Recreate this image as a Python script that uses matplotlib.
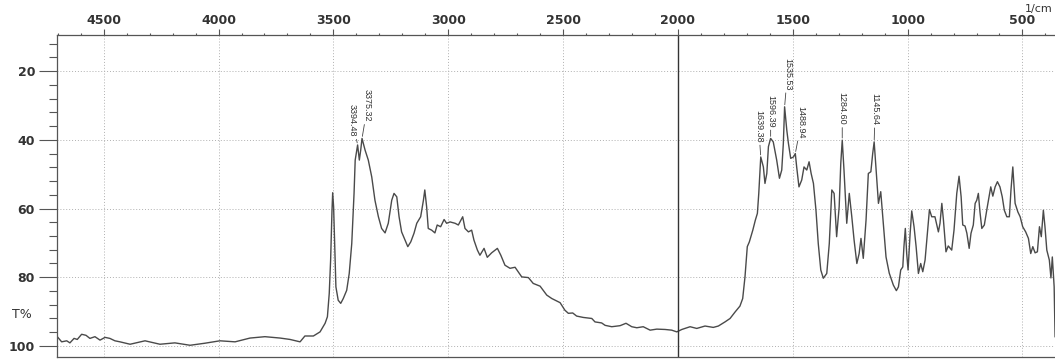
import matplotlib
matplotlib.use("Agg")
import matplotlib.pyplot as plt
from matplotlib.ticker import MultipleLocator

# IR trace: wavenumber (cm-1) and transmittance (%)
wavenumber = [
    4702, 4683, 4661, 4647, 4629, 4615, 4596, 4577, 4560, 4538, 4516, 4494, 4473, 4451, 4429,
    4385, 4320, 4255, 4190, 4124, 4059, 3994, 3928, 3863, 3798, 3732, 3689, 3645, 3624, 3587,
    3558, 3536, 3526, 3518, 3512, 3506, 3503, 3499, 3494, 3489, 3479, 3468, 3457, 3442, 3431,
    3420, 3410, 3405, 3394.48, 3387, 3381, 3375.32, 3362, 3348, 3333, 3319, 3304, 3290, 3275,
    3261, 3246, 3236, 3224, 3214, 3203, 3188, 3176, 3163, 3149, 3137, 3120, 3108, 3102, 3094,
    3087, 3072, 3058, 3048, 3033, 3018, 3007, 2992, 2970, 2956, 2937, 2927, 2912, 2898, 2888,
    2873, 2862, 2844, 2830, 2811, 2786, 2771, 2753, 2731, 2709, 2680, 2651, 2630, 2600, 2571,
    2549, 2513, 2492, 2477, 2458, 2441, 2412, 2375, 2361, 2332, 2317, 2288, 2252, 2226, 2201,
    2179, 2151, 2121, 2092, 2056, 2027, 2005, 1983, 1947, 1918, 1882, 1846, 1824, 1795, 1773,
    1751, 1730, 1718, 1708, 1698, 1689, 1674, 1663, 1654, 1648, 1642, 1639.38, 1628, 1621, 1613,
    1606, 1596.39, 1585, 1570, 1558, 1548, 1541, 1535.53, 1526, 1519, 1509, 1497, 1488.94, 1483,
    1473, 1461, 1451, 1439, 1429, 1420, 1410, 1399, 1389, 1378, 1367, 1352, 1341, 1330, 1320,
    1309, 1298, 1291, 1284.60, 1277, 1265, 1254, 1243, 1233, 1221, 1211, 1203, 1193, 1181, 1171,
    1160, 1152, 1145.64, 1137, 1127, 1117, 1106, 1094, 1080, 1062, 1049, 1040, 1030, 1021, 1016,
    1010, 1004, 998, 989, 982, 972, 963, 953, 943, 934, 924, 914, 905, 895, 881,
    866, 859, 851, 844, 833, 823, 808, 798, 786, 776, 767, 760, 750, 742, 732,
    724, 714, 706, 699, 692, 685, 677, 666, 653, 638, 629, 619, 609, 598, 588,
    579, 568, 557, 550, 542, 532, 520, 510, 499, 486, 474, 464, 455, 445, 435,
    426, 418, 409, 402, 394, 383, 376, 370, 362, 358,
]
transmittance = [
    97.3, 98.8, 98.5, 99.1, 97.8, 98.1, 96.6, 96.9, 97.8, 97.3, 98.3, 97.5, 97.8, 98.5, 98.8,
    99.5, 98.5, 99.5, 99.1, 99.8, 99.2, 98.5, 98.8, 97.7, 97.3, 97.7, 98.1, 98.8, 97.1, 97.1,
    95.9, 93.4, 91.5, 84.7, 75.0, 60.5, 55.4, 59.5, 71.1, 82.8, 86.7, 87.6, 86.2, 83.8, 78.9,
    70.2, 55.6, 45.9, 41.5, 45.9, 43.0, 39.6, 43.0, 45.9, 50.8, 57.6, 62.4, 65.8, 67.1,
    64.3, 57.6, 55.6, 56.6, 62.4, 66.8, 69.2, 71.1, 69.7, 67.2, 64.3, 62.4, 57.6, 54.6, 59.5,
    65.8, 66.3, 67.1, 64.8, 65.3, 63.2, 64.3, 63.9, 64.3, 64.8, 62.4, 65.8, 66.8, 66.3, 69.2,
    72.1, 73.6, 71.6, 74.2, 72.9, 71.6, 73.6, 76.5, 77.4, 77.1, 79.9, 80.1, 81.8, 82.6, 85.2,
    86.2, 87.4, 89.6, 90.5, 90.4, 91.3, 91.7, 92.0, 93.0, 93.3, 94.0, 94.4, 94.1, 93.4, 94.4,
    94.7, 94.4, 95.4, 95.1, 95.2, 95.4, 95.9, 95.2, 94.4, 94.9, 94.2, 94.6, 94.2, 93.0, 92.0,
    90.1, 88.4, 86.2, 79.9, 71.1, 69.7, 66.3, 63.4, 61.4, 55.6, 47.9, 45.0, 47.9, 52.7, 49.8,
    42.0, 39.6, 40.6, 45.9, 51.2, 48.8, 41.0, 30.4, 37.2, 41.0, 45.4, 45.0, 44.0, 47.9,
    53.7, 51.7, 47.9, 48.8, 46.4, 49.8, 52.7, 60.5, 70.2, 77.9, 80.3, 78.9, 70.2, 54.6, 55.6,
    68.2, 59.5, 46.9, 40.1, 48.8, 64.3, 55.6, 62.4, 69.2, 76.0, 73.1, 68.7, 74.5, 63.4, 49.8,
    49.3, 44.0, 40.6, 48.8, 58.5, 55.1, 64.2, 74.1, 78.8, 82.3, 83.9, 82.8, 77.9, 77.0, 71.1,
    65.8, 73.1, 77.9, 67.2, 60.7, 65.3, 71.1, 78.9, 76.0, 78.4, 75.0, 67.2, 60.3, 62.4, 62.4,
    66.8, 64.3, 58.5, 63.4, 72.6, 70.9, 72.1, 66.3, 55.6, 50.6, 56.6, 64.8, 65.1, 67.2, 71.6,
    67.2, 64.8, 58.5, 57.6, 55.6, 61.0, 65.8, 64.8, 59.5, 53.7, 56.4, 53.7, 52.2, 53.7, 56.6,
    60.5, 62.4, 62.4, 54.6, 47.9, 58.5, 61.0, 62.4, 65.3, 66.8, 68.7, 73.1, 71.1, 72.9, 72.6,
    65.3, 68.2, 60.5, 65.3, 72.1, 75.0, 80.2, 74.1, 82.8, 97.3,
]

# picked peaks
peak_wn = [3394.48, 3375.32, 1639.38, 1596.39, 1535.53, 1488.94, 1284.60, 1145.64]
peak_t = [41.5, 39.6, 45.0, 39.6, 30.4, 44.0, 40.1, 40.6]
# label offsets from the peak tip, in points
label_dx = [-3.6, 4.0, -1.5, 0.0, 2.0, 4.3, 0.0, 0.7]
label_dy = [6.0, 12.0, 10.5, 8.0, 12.0, 11.0, 11.0, 12.0]

AX_COLOR = "#555555"

fig = plt.figure(figsize=(10.55, 3.6), dpi=100)
ax = fig.add_axes([0.0543, 0.0075, 0.9584, 0.8953])

ax.plot(wavenumber, transmittance, color="#4a4a4a", lw=1.0)

ax.set_xlim(4702, 300)
ax.set_ylim(103.3, 9.5)

ax.xaxis.tick_top()
ax.xaxis.set_major_locator(MultipleLocator(500))
ax.xaxis.set_minor_locator(MultipleLocator(100))
ax.yaxis.set_major_locator(MultipleLocator(20))
ax.yaxis.set_minor_locator(MultipleLocator(4))

ax.tick_params(axis="x", which="major", direction="out", length=4, width=0.8,
               color=AX_COLOR, pad=2, labelsize=9, labelcolor="#333333")
ax.tick_params(axis="x", which="minor", direction="out", length=1.8, width=0.8, color=AX_COLOR)
ax.tick_params(axis="y", which="major", direction="out", length=13, width=0.8,
               color=AX_COLOR, pad=3, labelsize=9, labelcolor="#333333")
ax.tick_params(axis="y", which="minor", direction="out", length=6, width=0.8, color=AX_COLOR)
for lab in ax.get_xticklabels() + ax.get_yticklabels():
    lab.set_fontweight("bold")

for side in ["top", "bottom", "left", "right"]:
    ax.spines[side].set_color(AX_COLOR)
    ax.spines[side].set_linewidth(0.9)

ax.grid(which="major", linestyle=(0, (1, 2)), color="#b0b0b0", lw=0.7)
ax.axvline(2000, color="#333333", lw=1.0)

for wn, t, dx, dy in zip(peak_wn, peak_t, label_dx, label_dy):
    ax.annotate(f"{wn:.2f}", xy=(wn, t), xytext=(dx, dy), textcoords="offset points",
                rotation=270, ha="center", va="bottom", fontsize=6.5,
                family="Liberation Sans", color="#333333",
                arrowprops=dict(arrowstyle="-", color="#444444", lw=0.6,
                                shrinkA=0, shrinkB=1.5))

fig.text(21.5 / 1055, 1 - 314 / 360, "T%", fontsize=9, color="#333333",
         ha="center", va="center")
fig.text(1053 / 1055, 1 - 9 / 360, "1/cm", fontsize=8, color="#333333",
         ha="right", va="center")

fig.savefig("out.png", dpi=100)
